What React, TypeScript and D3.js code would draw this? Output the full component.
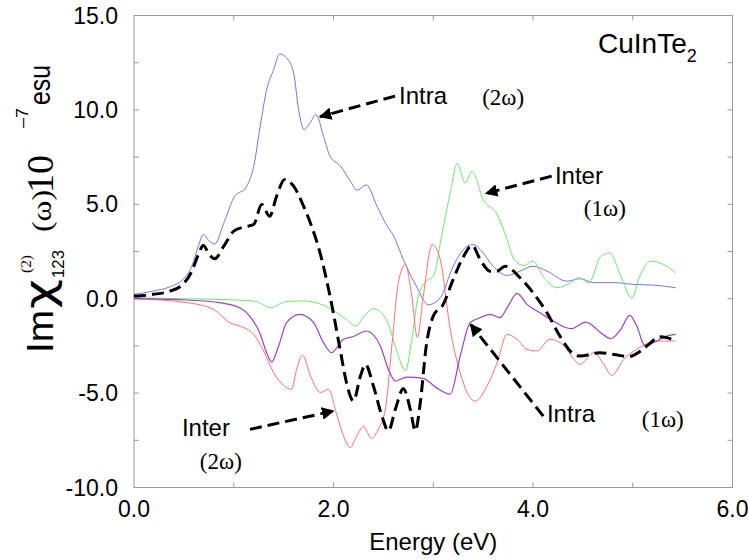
import React from "react";
import * as d3 from "d3";

// Im chi(2)_123 of CuInTe2 (energy in eV, value in 1e-7 esu)
const intra2wE = [0, 0.19, 0.36, 0.49, 0.58, 0.645, 0.695, 0.755, 0.81, 0.9, 1.0, 1.13, 1.2, 1.265, 1.33, 1.4, 1.46, 1.53, 1.6, 1.65, 1.705, 1.765, 1.825, 1.9, 1.965, 2.07, 2.17, 2.235, 2.33, 2.435, 2.535, 2.6, 2.7, 2.83, 2.95, 3.07, 3.2, 3.34, 3.4, 3.47, 3.6, 3.74, 3.87, 4.0, 4.14, 4.34, 4.47, 4.61, 4.81, 5.0, 5.21, 5.43];
const intra2wV = [0.23, 0.4, 0.63, 1.02, 1.73, 2.78, 3.4, 3.05, 2.9, 4.0, 5.34, 5.96, 7.0, 9.13, 11.07, 12.13, 12.96, 12.75, 11.96, 10.02, 8.96, 9.31, 9.75, 8.6, 7.55, 7.02, 6.22, 5.75, 6.03, 4.9, 3.88, 3.35, 2.08, 0.67, -0.32, 0.05, 1.72, 2.78, 2.87, 2.61, 1.72, 1.23, 1.46, 1.72, 1.46, 0.93, 1.06, 0.85, 0.85, 0.76, 0.72, 0.58];

const inter1wE = [0, 0.5, 0.86, 1.2, 1.29, 1.37, 1.45, 1.53, 1.7, 1.85, 1.93, 2.03, 2.13, 2.225, 2.31, 2.4, 2.53, 2.63, 2.72, 2.785, 2.85, 2.93, 3.0, 3.09, 3.17, 3.24, 3.32, 3.39, 3.5, 3.64, 3.74, 3.81, 3.91, 4.0, 4.1, 4.24, 4.38, 4.46, 4.56, 4.68, 4.77, 4.88, 4.99, 5.07, 5.18, 5.31, 5.43];
const inter1wV = [0.05, 0.0, -0.04, -0.13, -0.3, -0.48, -0.3, -0.15, -0.12, -0.25, -0.42, -0.74, -1.1, -1.45, -0.9, -0.53, -1.1, -2.68, -3.83, -2.15, 0.14, 0.93, 1.2, 3.5, 5.6, 7.16, 6.14, 6.75, 5.25, 4.46, 3.14, 2.08, 1.76, 1.99, 1.2, 0.58, 0.85, 1.11, 0.85, 2.25, 2.43, 1.2, 0.02, 1.2, 1.99, 1.81, 1.37];

const inter2wE = [0, 0.53, 0.8, 0.96, 1.06, 1.2, 1.3, 1.4, 1.5, 1.58, 1.63, 1.69, 1.77, 1.87, 1.95, 2.03, 2.1, 2.17, 2.23, 2.3, 2.38, 2.45, 2.52, 2.585, 2.65, 2.72, 2.785, 2.84, 2.9, 2.99, 3.07, 3.17, 3.27, 3.34, 3.42, 3.54, 3.64, 3.74, 3.84, 3.94, 4.04, 4.17, 4.31, 4.41, 4.47, 4.61, 4.71, 4.79, 4.91, 5.04, 5.18, 5.31, 5.43];
const inter2wV = [0, -0.21, -0.57, -1.27, -1.45, -1.89, -2.77, -3.92, -4.59, -4.8, -3.74, -3.0, -4.1, -4.97, -4.8, -6.1, -7.27, -7.88, -7.3, -6.77, -7.4, -6.9, -5.86, -2.5, 0.85, 1.81, 0.14, -2.06, 0.14, 2.87, 2.08, -1.62, -3.92, -4.97, -5.42, -4.62, -3.39, -1.89, -2.15, -2.68, -2.77, -2.15, -2.5, -3.21, -3.48, -2.86, -3.48, -4.06, -3.21, -2.68, -2.33, -2.24, -2.24];

const intra1wE = [0, 0.53, 0.86, 1.06, 1.16, 1.26, 1.33, 1.38, 1.45, 1.53, 1.66, 1.8, 1.9, 1.98, 2.1, 2.2, 2.33, 2.47, 2.55, 2.62, 2.735, 2.9, 3.03, 3.17, 3.27, 3.37, 3.47, 3.57, 3.67, 3.75, 3.84, 3.94, 4.07, 4.2, 4.38, 4.53, 4.68, 4.78, 4.88, 4.97, 5.04, 5.12, 5.24, 5.34, 5.43];
const intra1wV = [0, -0.07, -0.21, -0.48, -0.92, -1.8, -2.86, -3.35, -2.5, -1.27, -0.83, -1.27, -2.33, -2.86, -2.15, -2.0, -1.71, -2.5, -3.74, -4.36, -4.15, -4.22, -4.71, -5.06, -3.04, -1.27, -1.01, -0.83, -1.0, -0.39, 0.28, -0.3, -0.74, -1.18, -1.59, -1.24, -1.8, -2.12, -1.62, -0.88, -1.45, -2.47, -2.24, -1.98, -1.89];

const totalE = [0, 0.19, 0.36, 0.49, 0.58, 0.645, 0.695, 0.755, 0.81, 0.9, 1.0, 1.1, 1.2, 1.28, 1.36, 1.43, 1.51, 1.6, 1.7, 1.78, 1.865, 1.965, 2.066, 2.13, 2.2, 2.27, 2.32, 2.4, 2.485, 2.55, 2.62, 2.7, 2.77, 2.82, 2.87, 2.93, 3.0, 3.1, 3.2, 3.3, 3.39, 3.47, 3.57, 3.64, 3.72, 3.87, 4.0, 4.14, 4.27, 4.39, 4.47, 4.67, 4.81, 4.96, 5.08, 5.18, 5.27, 5.34, 5.43];
const totalV = [0.14, 0.23, 0.4, 0.76, 1.46, 2.34, 2.82, 2.34, 2.12, 2.78, 3.58, 3.79, 3.93, 4.99, 4.37, 5.43, 6.31, 5.96, 4.9, 3.84, 2.43, 0.14, -2.68, -4.44, -5.42, -4.1, -3.48, -4.62, -6.21, -7.0, -5.86, -4.77, -5.86, -7.0, -5.51, -2.5, -0.92, -0.3, 1.02, 2.2, 2.82, 2.08, 1.46, 1.46, 1.72, 1.11, 0.32, -0.74, -1.98, -2.86, -3.04, -2.86, -2.95, -3.07, -2.77, -2.33, -2.01, -2.06, -2.24];

const xTickLabels = [0, 2, 4, 6];
const yTickLabels = [-10, -5, 0, 5, 10, 15];

// annotation arrows, in data units: [fromE, fromV, toE, toV]
const arrows = [
  [2.617, 10.73, 1.865, 9.64],
  [4.187, 6.49, 3.529, 5.58],
  [4.103, -6.22, 3.375, -1.36],
  [1.163, -6.92, 1.998, -5.95],
];
// label texts: [text, E, V, serif?]
const labels: [string, number, number, boolean][] = [
  ["Intra", 2.657, 10.29, false],
  ["(2ω)", 3.49, 10.24, true],
  ["Inter", 4.22, 6.05, false],
  ["(1ω)", 4.51, 4.36, true],
  ["Intra", 4.14, -6.55, false],
  ["(1ω)", 5.09, -6.82, true],
  ["Inter", 0.48, -7.29, false],
  ["(2ω)", 0.66, -9.04, true],
];

const W = 749;
const H = 560;
const sans = "'Liberation Sans', Arial, Helvetica, sans-serif";
const serif = "'Liberation Serif', 'Times New Roman', serif";
const fmt = (t: number) => d3.format(".1f")(t).replace("−", "-");

export default function App() {
  const x = d3.scaleLinear().domain([0, 6]).range([134, 732.5]);
  const y = d3.scaleLinear().domain([-10, 15]).range([487.5, 15.5]);

  const line = d3
    .line<[number, number]>()
    .x((d) => x(d[0]))
    .y((d) => y(d[1]))
    .curve(d3.curveMonotoneX);

  const series = [
    { e: intra2wE, v: intra2wV, color: "#7373ff", w: 1, dash: undefined },
    { e: inter1wE, v: inter1wV, color: "#6ce86c", w: 1, dash: undefined },
    { e: inter2wE, v: inter2wV, color: "#ff7070", w: 1, dash: undefined },
    { e: intra1wE, v: intra1wV, color: "#9a40d0", w: 1.2, dash: undefined },
    { e: totalE, v: totalV, color: "#000", w: 3, dash: "12,6" },
  ];

  const [x0, x1] = x.range();
  const [yb, yt] = y.range();
  const tick = 5;

  return (
    <svg width={W} height={H} style={{ position: "absolute", left: 0, top: 0, background: "#fff" }}>
      <defs>
        <marker id="ah" viewBox="0 0 10 10" refX="9" refY="5" markerWidth="4.2" markerHeight="4.2" orient="auto" markerUnits="strokeWidth">
          <path d="M0,0 L10,5 L0,10 z" fill="#000" />
        </marker>
      </defs>

      {/* frame */}
      <rect x={x0} y={yt} width={x1 - x0} height={yb - yt} fill="none" stroke="#9a9a9a" strokeWidth={1} />
      {d3.range(1, 6).map((t) => (
        <g key={"xt" + t} stroke="#9a9a9a">
          <line x1={x(t)} x2={x(t)} y1={yb} y2={yb - tick} />
          <line x1={x(t)} x2={x(t)} y1={yt} y2={yt + tick} />
        </g>
      ))}
      {d3.range(-7.5, 15, 2.5).map((t) => (
        <g key={"yt" + t} stroke="#9a9a9a">
          <line x1={x0} x2={x0 + tick} y1={y(t)} y2={y(t)} />
          <line x1={x1} x2={x1 - tick} y1={y(t)} y2={y(t)} />
        </g>
      ))}

      {/* tick labels */}
      {yTickLabels.map((t) => (
        <text key={"yl" + t} x={118} y={y(t) + 8} textAnchor="end" fontFamily={sans} fontSize={23}>
          {fmt(t)}
        </text>
      ))}
      {xTickLabels.map((t) => (
        <text key={"xl" + t} x={x(t)} y={517} textAnchor="middle" fontFamily={sans} fontSize={23}>
          {fmt(t)}
        </text>
      ))}
      <text x={(x0 + x1) / 2} y={550} textAnchor="middle" fontFamily={sans} fontSize={24}>
        Energy (eV)
      </text>

      {/* y axis title, rotated */}
      <g transform="rotate(-90)">
        <text x={-353} y={53} fontFamily={sans} fontSize={37} textLength={43} lengthAdjust="spacingAndGlyphs">Im</text>
        <text x={-309} y={53} fontFamily="'DejaVu Sans', sans-serif" fontSize={40} textLength={30} lengthAdjust="spacingAndGlyphs">χ</text>
        <text x={-273} y={31} fontFamily={serif} fontSize={15} textLength={18} lengthAdjust="spacingAndGlyphs">(2)</text>
        <text x={-278} y={64} fontFamily={sans} fontSize={17} textLength={28} lengthAdjust="spacingAndGlyphs">123</text>
        <text x={-232} y={51} fontFamily={serif} fontSize={28} textLength={42} lengthAdjust="spacingAndGlyphs">(ω)</text>
        <text x={-193} y={53} fontFamily={serif} fontSize={38} textLength={38} lengthAdjust="spacingAndGlyphs">10</text>
        <text x={-128} y={28} fontFamily={sans} fontSize={16} textLength={20} lengthAdjust="spacingAndGlyphs">–7</text>
        <text x={-105} y={50} fontFamily={sans} fontSize={30} textLength={40} lengthAdjust="spacingAndGlyphs">esu</text>
      </g>

      {/* curves */}
      <g fill="none">
        {series.map((s, i) => (
          <path
            key={i}
            d={line(s.e.map((e, j) => [e, s.v[j]] as [number, number])) || ""}
            stroke={s.color}
            strokeWidth={s.w}
            strokeDasharray={s.dash}
          />
        ))}
      </g>

      {/* annotations */}
      {arrows.map((a, i) => (
        <line
          key={"ar" + i}
          x1={x(a[0])}
          y1={y(a[1])}
          x2={x(a[2])}
          y2={y(a[3])}
          stroke="#000"
          strokeWidth={3}
          strokeDasharray="12,6"
          markerEnd="url(#ah)"
        />
      ))}
      {labels.map(([t, e, v, isSerif], i) => (
        <text key={"lb" + i} x={x(e)} y={y(v)} fontFamily={isSerif ? serif : sans} fontSize={isSerif ? 23 : 24}>
          {t}
        </text>
      ))}

      <text x={598} y={53} fontFamily={sans} fontSize={28}>
        CuInTe<tspan fontSize={18} dy={9}>2</tspan>
      </text>
    </svg>
  );
}
